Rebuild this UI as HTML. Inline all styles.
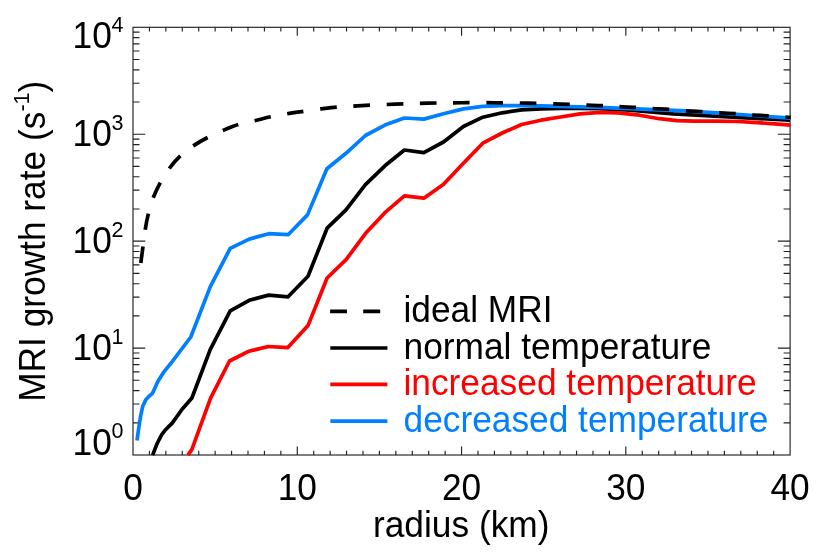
<!DOCTYPE html>
<html><head><meta charset="utf-8"><title>MRI growth rate</title>
<style>
html,body{margin:0;padding:0;background:#fff;}
body{width:830px;height:555px;overflow:hidden;}
svg{display:block;will-change:transform;}
text{font-family:"Liberation Sans",sans-serif;}
</style></head><body>
<svg width="830" height="555" viewBox="0 0 830 555">
<rect width="830" height="555" fill="#fff"/>
<defs><clipPath id="c"><rect x="132.5" y="26.8" width="658.3000000000001" height="431.7"/></clipPath></defs>

<path d="M149.43 455.0v-4.3M149.43 27.3v4.3M165.86 455.0v-4.3M165.86 27.3v4.3M182.28 455.0v-4.3M182.28 27.3v4.3M198.71 455.0v-4.3M198.71 27.3v4.3M215.14 455.0v-4.3M215.14 27.3v4.3M231.56 455.0v-4.3M231.56 27.3v4.3M247.99 455.0v-4.3M247.99 27.3v4.3M264.42 455.0v-4.3M264.42 27.3v4.3M280.85 455.0v-4.3M280.85 27.3v4.3M297.28 455.0v-8.5M297.28 27.3v8.5M313.70 455.0v-4.3M313.70 27.3v4.3M330.13 455.0v-4.3M330.13 27.3v4.3M346.56 455.0v-4.3M346.56 27.3v4.3M362.99 455.0v-4.3M362.99 27.3v4.3M379.41 455.0v-4.3M379.41 27.3v4.3M395.84 455.0v-4.3M395.84 27.3v4.3M412.27 455.0v-4.3M412.27 27.3v4.3M428.70 455.0v-4.3M428.70 27.3v4.3M445.12 455.0v-4.3M445.12 27.3v4.3M461.55 455.0v-8.5M461.55 27.3v8.5M477.98 455.0v-4.3M477.98 27.3v4.3M494.41 455.0v-4.3M494.41 27.3v4.3M510.83 455.0v-4.3M510.83 27.3v4.3M527.26 455.0v-4.3M527.26 27.3v4.3M543.69 455.0v-4.3M543.69 27.3v4.3M560.12 455.0v-4.3M560.12 27.3v4.3M576.54 455.0v-4.3M576.54 27.3v4.3M592.97 455.0v-4.3M592.97 27.3v4.3M609.40 455.0v-4.3M609.40 27.3v4.3M625.83 455.0v-8.5M625.83 27.3v8.5M642.25 455.0v-4.3M642.25 27.3v4.3M658.68 455.0v-4.3M658.68 27.3v4.3M675.11 455.0v-4.3M675.11 27.3v4.3M691.54 455.0v-4.3M691.54 27.3v4.3M707.96 455.0v-4.3M707.96 27.3v4.3M724.39 455.0v-4.3M724.39 27.3v4.3M740.82 455.0v-4.3M740.82 27.3v4.3M757.25 455.0v-4.3M757.25 27.3v4.3M773.67 455.0v-4.3M773.67 27.3v4.3M133.0 422.81h6.5M790.1 422.81h-6.5M133.0 403.98h6.5M790.1 403.98h-6.5M133.0 390.62h6.5M790.1 390.62h-6.5M133.0 380.26h6.5M790.1 380.26h-6.5M133.0 371.80h6.5M790.1 371.80h-6.5M133.0 364.64h6.5M790.1 364.64h-6.5M133.0 358.44h6.5M790.1 358.44h-6.5M133.0 352.97h6.5M790.1 352.97h-6.5M133.0 348.07h12.3M790.1 348.07h-12.3M133.0 315.89h6.5M790.1 315.89h-6.5M133.0 297.06h6.5M790.1 297.06h-6.5M133.0 283.70h6.5M790.1 283.70h-6.5M133.0 273.34h6.5M790.1 273.34h-6.5M133.0 264.87h6.5M790.1 264.87h-6.5M133.0 257.71h6.5M790.1 257.71h-6.5M133.0 251.51h6.5M790.1 251.51h-6.5M133.0 246.04h6.5M790.1 246.04h-6.5M133.0 241.15h12.3M790.1 241.15h-12.3M133.0 208.96h6.5M790.1 208.96h-6.5M133.0 190.13h6.5M790.1 190.13h-6.5M133.0 176.77h6.5M790.1 176.77h-6.5M133.0 166.41h6.5M790.1 166.41h-6.5M133.0 157.95h6.5M790.1 157.95h-6.5M133.0 150.79h6.5M790.1 150.79h-6.5M133.0 144.59h6.5M790.1 144.59h-6.5M133.0 139.12h6.5M790.1 139.12h-6.5M133.0 134.23h12.3M790.1 134.23h-12.3M133.0 102.04h6.5M790.1 102.04h-6.5M133.0 83.21h6.5M790.1 83.21h-6.5M133.0 69.85h6.5M790.1 69.85h-6.5M133.0 59.49h6.5M790.1 59.49h-6.5M133.0 51.02h6.5M790.1 51.02h-6.5M133.0 43.86h6.5M790.1 43.86h-6.5M133.0 37.66h6.5M790.1 37.66h-6.5M133.0 32.19h6.5M790.1 32.19h-6.5" stroke="#222" stroke-width="1.15" fill="none"/>
<rect x="133.0" y="27.3" width="657.1" height="427.7" fill="none" stroke="#222" stroke-width="1.15"/>
<g clip-path="url(#c)" fill="none" stroke-linejoin="round">
<polyline points="152.6,455.2 156.4,445.3 159.0,439.8 161.9,434.3 164.8,430.6 167.8,427.4 172.2,423.1 182.1,409.2 191.9,398.0 210.2,349.7 230.2,310.9 249.2,300.3 268.7,295.1 288.1,296.8 308.0,276.3 327.1,228.2 346.0,209.9 365.4,184.6 384.9,165.8 404.4,150.0 423.8,152.6 443.5,142.0 463.4,126.5 482.8,117.2 502.2,112.8 521.6,109.9 541.0,108.8 560.5,108.3 580.0,108.3 599.4,108.7 630.0,110.1 673.3,113.9 790.0,120.2" stroke="#000" stroke-width="3.7"/>
<polyline points="188.0,455.1 191.9,449.4 210.5,398.4 229.5,361.0 249.0,351.2 268.4,346.5 287.9,347.6 308.0,325.6 327.1,278.0 346.3,259.4 365.6,233.3 384.9,212.7 404.4,195.9 423.8,198.2 443.3,184.6 463.4,163.3 482.8,143.2 502.2,133.0 521.6,124.5 541.0,120.2 560.5,117.0 580.0,113.9 600.5,112.4 617.8,112.8 639.5,115.2 659.3,118.7 677.0,120.7 694.9,121.2 716.5,121.2 738.1,121.5 757.0,122.7 775.0,123.8 790.5,125.2" stroke="#ff0000" stroke-width="3.7"/>
<polyline points="137.0,440.5 138.7,428.2 140.6,416.2 142.7,406.4 145.8,399.7 148.9,396.4 152.5,393.3 158.1,381.1 163.5,372.4 172.2,361.6 190.8,337.0 210.3,286.6 230.2,248.4 249.2,239.1 268.7,233.7 288.1,234.7 307.5,214.9 326.9,168.8 346.0,153.3 365.4,135.5 384.9,125.1 404.4,118.0 423.8,119.1 443.5,113.8 463.4,108.9 482.8,106.4 502.2,105.7 521.6,105.7 541.0,105.9 560.5,106.3 580.0,106.8 599.4,107.4 630.0,108.6 660.0,109.9 680.0,110.7 700.0,111.8 720.0,113.2 740.0,114.5 760.0,116.0 790.5,118.2" stroke="#0080ff" stroke-width="3.7"/>
<path d="M140.8 263.0C141.5 257.6 142.3 251.8 143.0 246.4M145.2 229.7C146.0 224.4 147.1 218.8 148.4 213.6M153.2 197.8C155.2 192.7 157.7 187.4 160.3 182.6M169.3 168.5C172.5 164.1 176.4 159.6 180.3 155.9M193.2 145.9C197.7 142.9 202.8 140.0 207.6 137.5M222.8 130.5C227.8 128.4 233.1 126.1 238.3 124.5M254.6 120.7C259.9 119.5 265.5 117.9 270.8 116.8M287.2 113.8C292.5 112.9 298.1 112.1 303.4 111.3M320.2 108.9C325.6 108.3 331.4 107.6 336.8 107.2M353.3 106.2C358.7 105.9 364.6 105.5 370.0 105.2M386.7 104.5C392.1 104.3 398.0 104.1 403.4 103.9M419.9 103.4C425.3 103.3 431.2 103.1 436.6 103.0M453.0 102.8C458.4 102.8 464.2 102.7 469.6 102.7M486.4 102.7C491.8 102.7 497.6 102.8 503.0 102.8M519.8 103.0C525.2 103.1 531.0 103.2 536.4 103.3M553.2 103.8C558.6 104.0 564.4 104.2 569.8 104.4M586.4 105.1C591.8 105.3 597.6 105.4 603.0 105.7M619.4 106.7C624.8 107.0 630.6 107.1 636.0 107.4M652.6 108.5C658.0 108.8 663.8 108.9 669.2 109.3M686.0 110.8C691.3 111.2 697.1 111.3 702.4 111.6M719.1 112.8C724.5 113.1 730.3 113.4 735.7 113.7M752.2 115.0C757.6 115.3 763.4 115.6 768.8 115.9M785.4 117.0C790.8 117.3 796.6 117.7 802.0 118.1" stroke="#000" stroke-width="3.7"/>
</g>
<text transform="translate(133.00,499.60) scale(1,1.031)" font-size="35.3" text-anchor="middle">0</text>
<text transform="translate(297.28,499.60) scale(1,1.031)" font-size="35.3" text-anchor="middle">10</text>
<text transform="translate(461.55,499.60) scale(1,1.031)" font-size="35.3" text-anchor="middle">20</text>
<text transform="translate(625.83,499.60) scale(1,1.031)" font-size="35.3" text-anchor="middle">30</text>
<text transform="translate(790.10,499.60) scale(1,1.031)" font-size="35.3" text-anchor="middle">40</text>
<text transform="translate(111.80,48.20) scale(1,1.031)" font-size="35.3" text-anchor="end">10</text>
<text transform="translate(111.60,31.60) scale(1,1.031)" font-size="21.5">4</text>
<text transform="translate(111.80,146.20) scale(1,1.031)" font-size="35.3" text-anchor="end">10</text>
<text transform="translate(111.60,129.60) scale(1,1.031)" font-size="21.5">3</text>
<text transform="translate(111.80,253.10) scale(1,1.031)" font-size="35.3" text-anchor="end">10</text>
<text transform="translate(111.60,236.50) scale(1,1.031)" font-size="21.5">2</text>
<text transform="translate(111.80,360.10) scale(1,1.031)" font-size="35.3" text-anchor="end">10</text>
<text transform="translate(111.60,343.50) scale(1,1.031)" font-size="21.5">1</text>
<text transform="translate(111.80,454.80) scale(1,1.031)" font-size="35.3" text-anchor="end">10</text>
<text transform="translate(111.60,438.20) scale(1,1.031)" font-size="21.5">0</text>
<text transform="translate(461.20,536.60) scale(1,1.031)" font-size="35.3" text-anchor="middle">radius (km)</text>
<g transform="translate(45.4,241.3) rotate(-90)"><text transform="scale(1,1.031)" font-size="35.3" text-anchor="middle">MRI growth rate (s<tspan font-size="21.5" dy="-16">-1</tspan><tspan dy="16">)</tspan></text></g>
<path d="M330.1 311.4H347M363.2 311.4H380.2" stroke="#000" stroke-width="3.7"/>
<text transform="translate(403.50,322.40) scale(1,1.031)" font-size="35.3">ideal MRI</text>
<line x1="330.3" y1="348" x2="387.4" y2="348" stroke="#000" stroke-width="3.7"/>
<text transform="translate(403.50,359.00) scale(1,1.031)" font-size="35.3">normal temperature</text>
<line x1="330.3" y1="384.4" x2="387.4" y2="384.4" stroke="#ff0000" stroke-width="3.7"/>
<text transform="translate(403.50,395.40) scale(1,1.031)" font-size="35.3" fill="#ff0000">increased temperature</text>
<line x1="330.3" y1="421.2" x2="387.4" y2="421.2" stroke="#0080ff" stroke-width="3.7"/>
<text transform="translate(403.50,432.20) scale(1,1.031)" font-size="35.3" fill="#0080ff">decreased temperature</text>
</svg></body></html>
